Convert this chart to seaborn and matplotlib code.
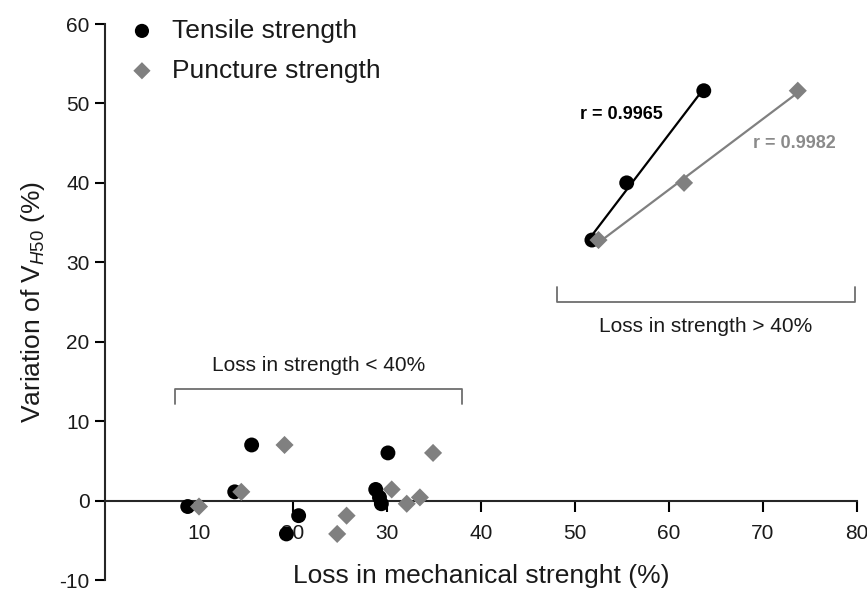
import numpy as np
import pandas as pd
import matplotlib
matplotlib.use("Agg")
import matplotlib.pyplot as plt
import seaborn as sns

# ---- data ----
tensile_x = [8.8, 13.8, 15.6, 19.3, 20.6, 28.8, 29.2, 29.4, 30.1, 51.8, 55.5, 63.7]
tensile_y = [-0.75, 1.1, 7.0, -4.2, -1.9, 1.4, 0.4, -0.4, 6.0, 32.8, 40.0, 51.6]
puncture_x = [10.0, 14.5, 19.1, 24.7, 25.7, 30.5, 33.5, 32.1, 34.9, 52.5, 61.6, 73.7]
puncture_y = [-0.75, 1.1, 7.0, -4.2, -1.9, 1.4, 0.4, -0.4, 6.0, 32.8, 40.0, 51.6]
high_threshold = 40
xticks = [10, 20, 30, 40, 50, 60, 70, 80]
yticks = [-10, 0, 10, 20, 30, 40, 50, 60]
r_tensile = "r = 0.9965"
r_puncture = "r = 0.9982"

tens = pd.DataFrame({"x": tensile_x, "y": tensile_y})
punc = pd.DataFrame({"x": puncture_x, "y": puncture_y})

sns.set_style("ticks")
plt.rcParams["font.family"] = ["Liberation Sans", "DejaVu Sans"]
plt.rcParams["axes.unicode_minus"] = False
plt.rcParams["mathtext.fontset"] = "custom"
plt.rcParams["mathtext.rm"] = "Liberation Sans"
plt.rcParams["mathtext.it"] = "Liberation Sans:italic"

BLACK = "#000000"
GREY = "#808080"
TGREY = "#8a8a8a"
BGREY = "#6e6e6e"

fig = plt.figure(figsize=(8.67, 5.92), dpi=100)
ax = fig.add_axes([105 / 867, 1 - 580 / 592, (857 - 105) / 867, (580 - 24) / 592])

# regression lines for the high-loss group
sns.regplot(data=tens[tens.x > high_threshold], x="x", y="y", ax=ax, scatter=False,
            ci=None, truncate=True, color=BLACK, line_kws={"lw": 1.6})
sns.regplot(data=punc[punc.x > high_threshold], x="x", y="y", ax=ax, scatter=False,
            ci=None, truncate=True, color=GREY, line_kws={"lw": 1.6})

sns.scatterplot(data=tens, x="x", y="y", ax=ax, marker="o", s=115, color=BLACK,
                edgecolor="none", label="Tensile strength", zorder=3)
sns.scatterplot(data=punc, x="x", y="y", ax=ax, marker="D", s=85, color=GREY,
                edgecolor="none", label="Puncture strength", zorder=4)

ax.set_xlim(0, 80)
ax.set_ylim(-10, 60)
ax.set_xticks(xticks)
ax.set_yticks(yticks)
ax.set_xticklabels([str(t) for t in xticks])
ax.set_yticklabels([str(t) for t in yticks])

for s in ["top", "right"]:
    ax.spines[s].set_visible(False)
ax.spines["bottom"].set_position(("data", 0))
ax.spines["bottom"].set_linewidth(1.5)
ax.spines["left"].set_linewidth(1.5)
ax.tick_params(axis="both", direction="out", width=1.5, labelsize=15, colors="black",
               labelcolor="#1a1a1a")
ax.tick_params(axis="x", length=8, pad=9)
ax.tick_params(axis="y", length=7, pad=4)

ax.set_xlabel("")
ax.set_ylabel(r"Variation of V$_{\mathit{H50}}$ (%)", fontsize=19, labelpad=9,
              color="#1a1a1a")
ax.text(40, -9.5, "Loss in mechanical strenght (%)", fontsize=19, ha="center",
        va="center", color="#1a1a1a")

# annotations
ax.text(50.5, 48.6, r_tensile, fontsize=13, fontweight="bold", color=BLACK,
        ha="left", va="center")
ax.text(68.9, 45.0, r_puncture, fontsize=13, fontweight="bold", color=TGREY,
        ha="left", va="center")

# brackets
ax.plot([7.4, 7.4, 38.0, 38.0], [12.1, 14.1, 14.1, 12.1], color=BGREY, lw=1.3)
ax.text(22.7, 17.0, "Loss in strength < 40%", fontsize=15, ha="center", va="center",
        color="#1a1a1a")
ax.plot([48.1, 48.1, 79.8, 79.8], [26.9, 25.0, 25.0, 26.9], color=BGREY, lw=1.3)
ax.text(63.9, 21.9, "Loss in strength > 40%", fontsize=15, ha="center", va="center",
        color="#1a1a1a")

leg = ax.legend(loc="upper left", bbox_to_anchor=(0.0, 1.052), frameon=False,
                fontsize=19, handlelength=1.0, handletextpad=0.65,
                labelspacing=0.6, markerscale=0.95)
for t in leg.get_texts():
    t.set_color("#1a1a1a")

fig.savefig("out.png", dpi=100)
